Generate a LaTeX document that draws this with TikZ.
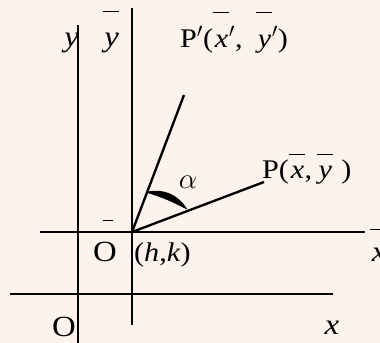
\documentclass[tikz,border=0pt]{standalone}
\usepackage{fontspec}
\setmainfont{Liberation Serif}[FakeStretch=1.12]
\usetikzlibrary{calc}
\definecolor{fondo}{RGB}{253,243,236}
\newcommand{\ovl}[2][1.3em]{\ensuremath{\overline{\rule{0pt}{#1}\kern1.5pt\textit{#2}\kern0.5pt}}}

\begin{document}
\begin{tikzpicture}[x=0.3mm, y=-0.3mm, line width=2pt,
    every node/.style={inner sep=0pt, font=\fontsize{23}{26}\selectfont},
    grande/.style={font=\fontsize{25}{28}\selectfont}]
    \fill[fondo] (0,0) rectangle (380,343);
    \useasboundingbox (0,0) rectangle (380,343);

    % Ejes x, y
    \coordinate (ysup) at (78,25);
    \coordinate (yinf) at (78,343);
    \coordinate (xizq) at (10,294);
    \coordinate (xder) at (333,294);
    \draw (ysup) -- (yinf);
    \draw (xizq) -- (xder);

    % Ejes trasladados
    \coordinate (ybsup) at (132,8);
    \coordinate (ybinf) at (132,325);
    \coordinate (xbizq) at (40,232);
    \coordinate (xbder) at (365,232);
    \draw (ybsup) -- (ybinf);
    \draw (xbizq) -- (xbder);

    % Rotacion
    \coordinate (Ob) at (132,232);
    \coordinate (Pp) at (184,95);
    \coordinate (P) at (264,182);
    \draw (Ob) -- (Pp);
    \draw (Ob) -- (P);
    \coordinate (a1) at ($(Ob)!0.29!(Pp)$);
    \coordinate (a2) at ($(Ob)!0.41!(P)+(0,-3)$);
    \filldraw[line width=0.8pt] (a1) to[bend left=35] (a2) to[bend right=5] (a1);

    % Etiquetas
    \node[grande, anchor=base east] (ly) at (80,47) {\textit{y}};
    \node[grande, anchor=base] (lyb) at (111,47) {\ovl[1.15em]{y}};
    \node[anchor=base west] (lPp) at (179,48) {P$'$(\ovl[1.25em]{x}$'$,\enspace\ovl[1.25em]{y}$'$)};
    \node[anchor=base west] (lP) at (261,179) {P(\ovl[0.85em]{x},\,\ovl[0.85em]{y}\,\,)};
    \node[grande] (lal) at (188,182) {$\alpha$};
    \node[grande, anchor=base] (lOb) at (105,262) {O};
    \draw[line width=1.4pt] ([shift={(-2,-21)}]lOb.north) -- ++(10,0);
    \node[anchor=base west] (lhk) at (133,262) {(\textit{h},\textit{k})};
    \node[grande, anchor=base west] (lxb) at (369,262) {\ovl[1.05em]{x}};
    \node[grande, anchor=base] (lO) at (64,337) {O};
    \node[grande, anchor=base] (lx) at (332,335) {\textit{x}};
\end{tikzpicture}
\end{document}
